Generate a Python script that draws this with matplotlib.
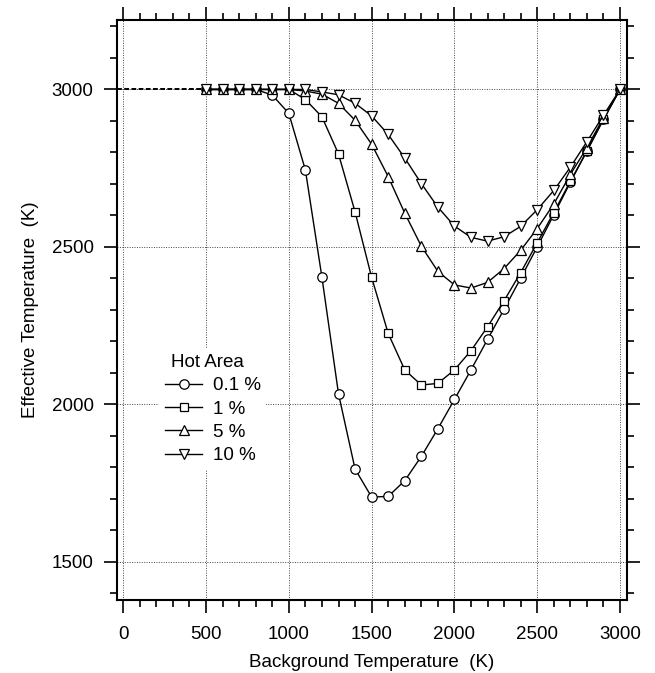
import matplotlib
matplotlib.use("Agg")
import matplotlib.pyplot as plt
from matplotlib.ticker import MultipleLocator

plt.rcParams['font.family'] = ['Liberation Sans', 'DejaVu Sans']
plt.rcParams['font.size'] = 13.5

# background temperature (K)
bg_temp = [500, 600, 700, 800, 900, 1000, 1100, 1200, 1300, 1400, 1500, 1600, 1700,
           1800, 1900, 2000, 2100, 2200, 2300, 2400, 2500, 2600, 2700, 2800, 2900, 3000]

# effective temperature (K) for each hot-area fraction
eff_01 = [3000, 3000, 3000, 3000, 2982, 2924, 2744, 2403, 2033, 1794, 1705, 1707, 1757,
          1834, 1922, 2015, 2109, 2206, 2302, 2400, 2500, 2602, 2705, 2805, 2905, 3000]
eff_1 = [3000, 3000, 3000, 3000, 3000, 3000, 2968, 2913, 2795, 2611, 2403, 2225, 2109,
         2061, 2066, 2109, 2170, 2246, 2329, 2418, 2513, 2609, 2708, 2804, 2905, 3000]
eff_5 = [3000, 3000, 3000, 3000, 3000, 3000, 2995, 2985, 2956, 2902, 2826, 2723, 2607,
         2502, 2422, 2379, 2369, 2387, 2431, 2489, 2558, 2636, 2730, 2815, 2910, 3000]
eff_10 = [3000, 3000, 3000, 3000, 3000, 3000, 3000, 2992, 2983, 2956, 2916, 2857, 2782,
          2701, 2626, 2566, 2530, 2518, 2532, 2565, 2618, 2679, 2753, 2834, 2918, 3000]

labels = ['0.1 %', '1 %', '5 %', '10 %']

# dashed extension of the flat part toward zero
flat_x = [-40, 500]
flat_y = [3000, 3000]

fig = plt.figure(figsize=(6.55, 6.73), dpi=100)
ax = fig.add_axes([0.178, 0.1085, 0.780, 0.8615])

ax.grid(True, which='major', linestyle=(0, (1, 1.5)), color='#444444', linewidth=0.7)
ax.set_axisbelow(True)

ax.plot(flat_x, flat_y, color='black', linestyle=(0, (2.5, 1.2)), linewidth=1.4)

style = dict(color='black', linewidth=1.0, markerfacecolor='white',
             markeredgecolor='black', markeredgewidth=0.9)
h1, = ax.plot(bg_temp, eff_01, marker='o', markersize=6.8, label=labels[0], **style)
h2, = ax.plot(bg_temp, eff_1, marker='s', markersize=6.2, label=labels[1], **style)
h3, = ax.plot(bg_temp, eff_5, marker='^', markersize=7.5, label=labels[2], **style)
h4, = ax.plot(bg_temp, eff_10, marker='v', markersize=7.5, label=labels[3], **style)

ax.set_xlim(-40, 3045)
ax.set_ylim(1378, 3220)

ax.xaxis.set_major_locator(MultipleLocator(500))
ax.xaxis.set_minor_locator(MultipleLocator(100))
ax.yaxis.set_major_locator(MultipleLocator(500))
ax.yaxis.set_minor_locator(MultipleLocator(100))

ax.tick_params(which='both', direction='out', top=True, right=True,
               width=1.2, color='black')
ax.tick_params(which='major', length=9.5, pad=7)
ax.tick_params(axis='x', which='major', pad=9)
ax.tick_params(which='minor', length=4.8)

for sp in ax.spines.values():
    sp.set_linewidth(1.5)

ax.set_xlabel('Background Temperature  (K)', labelpad=8)
ax.set_ylabel('Effective Temperature  (K)', labelpad=9)

leg = ax.legend(handles=[h1, h2, h3, h4], title='Hot Area', loc='upper left',
                bbox_to_anchor=(0.065, 0.45), frameon=True, facecolor='white',
                edgecolor='none', framealpha=1, fancybox=False,
                handlelength=2.0, handletextpad=0.55, labelspacing=0.33,
                borderpad=0.3, alignment='left', title_fontsize=13.5)
leg.get_title().set_position((6, 0))

fig.savefig('out.png', dpi=100)
